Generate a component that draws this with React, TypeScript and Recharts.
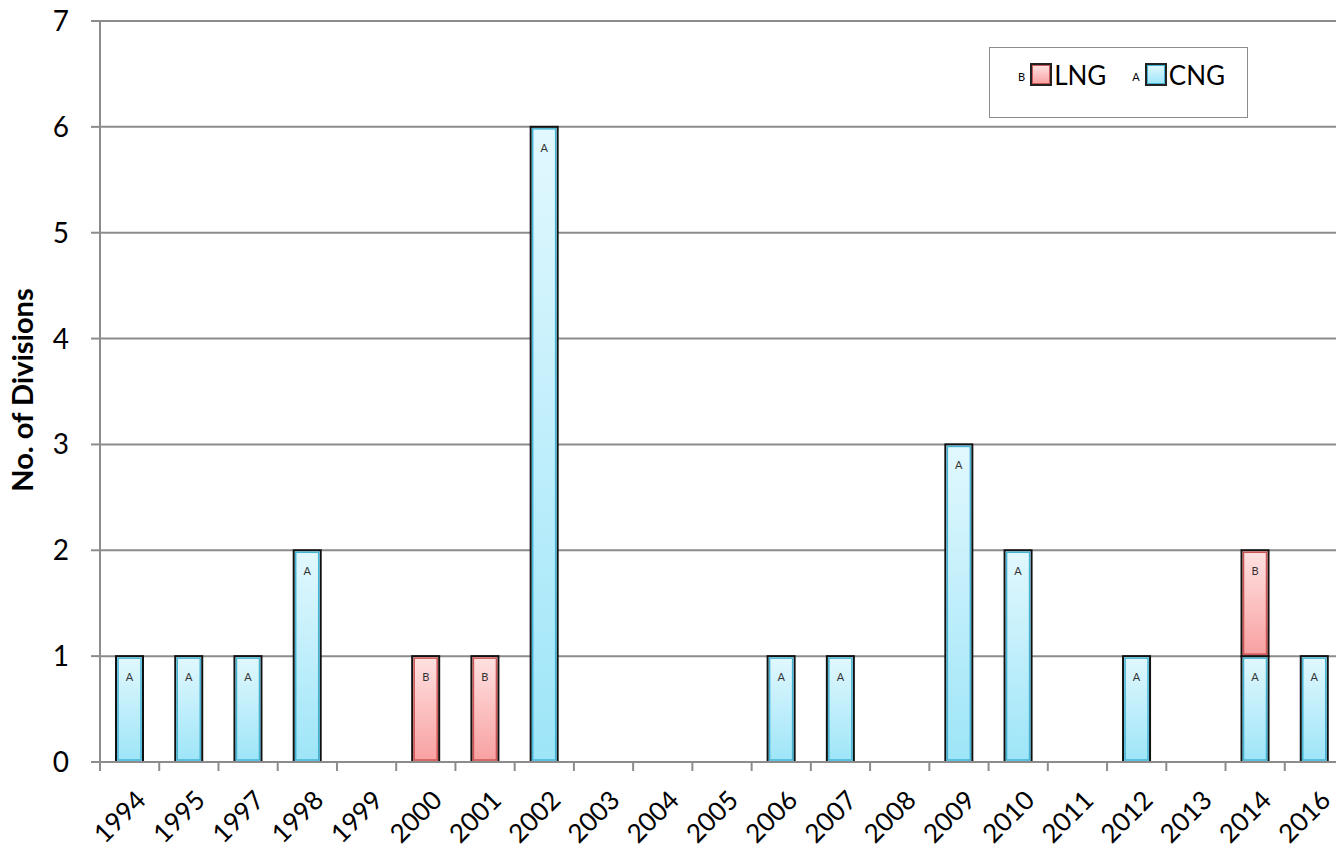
import React from 'react'
import { BarChart, Bar, XAxis, YAxis, CartesianGrid } from 'recharts'

// Years on the category axis
const years = ['1994', '1995', '1997', '1998', '1999', '2000', '2001', '2002', '2003', '2004', '2005',
  '2006', '2007', '2008', '2009', '2010', '2011', '2012', '2013', '2014', '2016']
// CNG divisions per year (marker A)
const cngValues = [1, 1, 1, 2, 0, 0, 0, 6, 0, 0, 0, 1, 1, 0, 3, 2, 0, 1, 0, 1, 1]
// LNG divisions per year (marker B)
const lngValues = [0, 0, 0, 0, 0, 1, 1, 0, 0, 0, 0, 0, 0, 0, 0, 0, 0, 0, 0, 1, 0]
const yTicks = [0, 1, 2, 3, 4, 5, 6, 7]

const data = years.map((year, i) => ({ year, CNG: cngValues[i], LNG: lngValues[i] }))

const FONT = 'Lato, "Open Sans", sans-serif'
const GRID = '#8c8c8c'
const CHART_W = 1344
const CHART_H = 851
const PLOT_LEFT = 100
const BAND = (CHART_W - PLOT_LEFT) / years.length

const makeShape = (gradId: string, inner: string, letter: string) => (props: any) => {
  const { x, y, width, height } = props
  if (!height || height <= 0) return null
  return (
    <g>
      <rect x={x} y={y} width={width} height={height} fill={`url(#${gradId})`} stroke="#111" strokeWidth={2} />
      <rect x={x + 2} y={y + 2} width={width - 4} height={height - 4} fill="none" stroke={inner} strokeWidth={1.5} />
      <text x={x + width / 2} y={y + 25} textAnchor="middle" fontSize={11} fill="#333" fontFamily={FONT}>{letter}</text>
    </g>
  )
}

const cngShape = makeShape('cngGrad', '#45b3d3', 'A')
const lngShape = makeShape('lngGrad', '#cc5555', 'B')

const YearTick = (props: any) => {
  const { x, y, payload } = props
  const bx = x - BAND / 2
  const tx = x + 5
  const ty = y + 27
  return (
    <g>
      <line x1={bx} y1={y} x2={bx} y2={y + 9} stroke={GRID} strokeWidth={2} />
      <text x={tx} y={ty} textAnchor="end" fontFamily={FONT} fill="#000" style={{ fontSize: '26px' }}
        transform={`rotate(-45, ${tx}, ${ty})`} dy="0.7em">
        {payload.value}
      </text>
    </g>
  )
}

const YTitle = () => (
  <text x={33} y={390} textAnchor="middle" fontSize={29} fontWeight={700} fontFamily={FONT} fill="#000"
    transform="rotate(-90, 33, 390)">
    No. of Divisions
  </text>
)

const Swatch = ({ letter, from, to, border, name }: { letter: string; from: string; to: string; border: string; name: string }) => (
  <div style={{ display: 'flex', alignItems: 'center' }}>
    <span style={{ fontSize: 11, marginRight: 5, marginTop: 4 }}>{letter}</span>
    <span style={{
      width: 18, height: 19, border: '2px solid #222', boxShadow: `inset 0 0 0 1px ${border}`,
      background: `linear-gradient(${from}, ${to})`, display: 'inline-block',
    }} />
    <span style={{ fontSize: 26, marginLeft: 2 }}>{name}</span>
  </div>
)

export default function App() {
  return (
    <div style={{ position: 'fixed', left: 0, top: 0, width: 1336, height: 851, overflow: 'hidden', background: '#fff', fontFamily: FONT }}>
      <BarChart width={CHART_W} height={CHART_H} data={data} barSize={27}
        margin={{ top: 21, right: 0, left: 0, bottom: 0 }}>
        <defs>
          <linearGradient id="cngGrad" x1="0" y1="0" x2="0" y2="1">
            <stop offset="0%" stopColor="#e2f8fe" />
            <stop offset="100%" stopColor="#9de5f8" />
          </linearGradient>
          <linearGradient id="lngGrad" x1="0" y1="0" x2="0" y2="1">
            <stop offset="0%" stopColor="#ffe2e2" />
            <stop offset="100%" stopColor="#f8a0a0" />
          </linearGradient>
        </defs>
        <CartesianGrid vertical={false} stroke={GRID} strokeWidth={2} />
        <XAxis dataKey="year" height={CHART_H - 762} interval={0} tickLine={false} tickSize={0} tickMargin={0}
          axisLine={{ stroke: GRID, strokeWidth: 2 }} tick={<YearTick />} />
        <YAxis width={PLOT_LEFT} domain={[0, 7]} ticks={yTicks} interval={0} tickSize={9} tickMargin={22}
          axisLine={{ stroke: GRID, strokeWidth: 2 }} tickLine={{ stroke: GRID, strokeWidth: 2 }}
          tick={{ fontSize: 28, fill: '#000', fontFamily: FONT }}
          label={<YTitle />} />
        <Bar dataKey="CNG" stackId="s" shape={cngShape} isAnimationActive={false} />
        <Bar dataKey="LNG" stackId="s" shape={lngShape} isAnimationActive={false} />
      </BarChart>
      <div style={{
        position: 'absolute', left: 989, top: 47, width: 259, height: 71, border: `1px solid ${GRID}`,
        boxSizing: 'border-box', display: 'flex', alignItems: 'center', justifyContent: 'center', gap: 26,
        paddingBottom: 16, paddingLeft: 6, background: '#fff',
      }}>
        <Swatch letter="B" from="#ffe2e2" to="#f8a0a0" border="#cc5555" name="LNG" />
        <Swatch letter="A" from="#e2f8fe" to="#9de5f8" border="#45b3d3" name="CNG" />
      </div>
    </div>
  )
}
